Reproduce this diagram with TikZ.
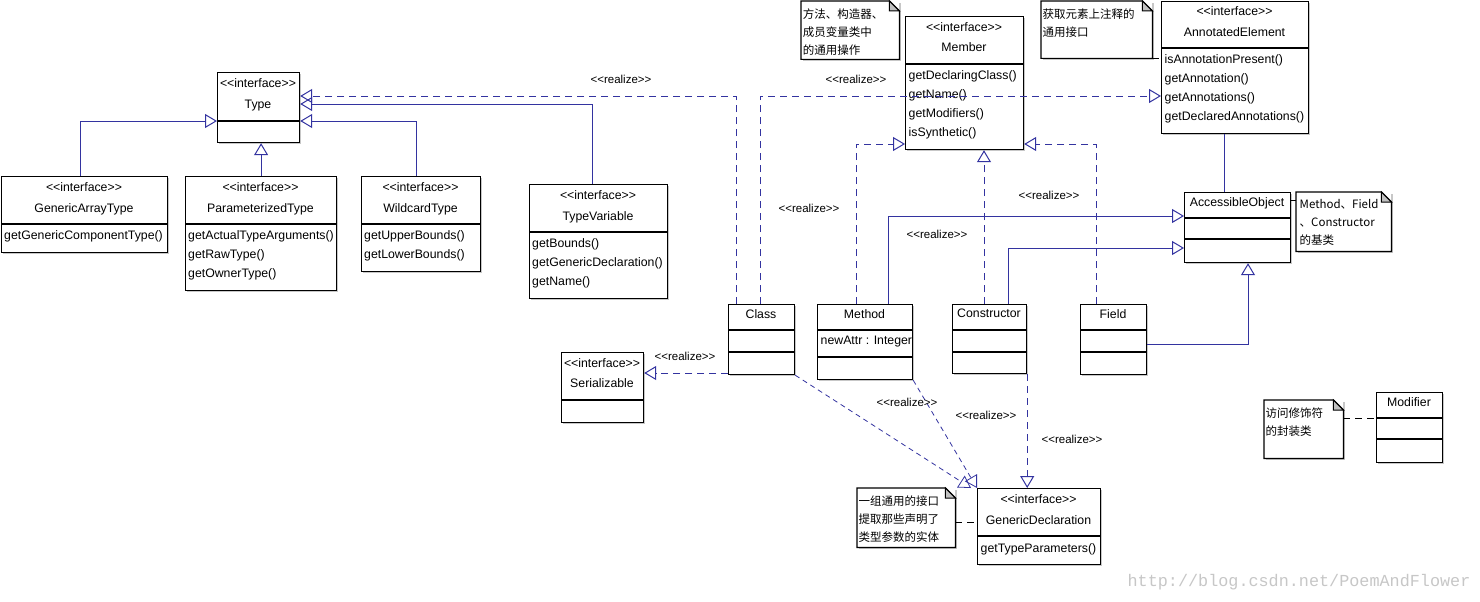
\documentclass[tikz,border=0pt]{standalone}
\usepackage{fontspec}
\setmainfont{Liberation Sans}
\newfontfamily\cjk{Noto Sans CJK SC}
\newfontfamily\wmfont{Liberation Mono}
\usepackage{tikz}
\usetikzlibrary{arrows.meta, shadows}

\definecolor{linkblue}{RGB}{51,51,160}
\definecolor{foldgray}{RGB}{192,192,192}

% stereotype text, kerned so that << and >> stay two characters
\newcommand{\stereo}[1]{<\kern0pt<#1>\kern0pt>}
% note outline with folded corner
\newcommand{\dogear}[1]{%
  \draw[line width=1.2pt] (#1.north west) -- ([xshift=-10pt]#1.north east)
    -- ([yshift=-10pt]#1.north east) -- (#1.south east) -- (#1.south west) -- cycle;
  \filldraw[fill=foldgray, line width=1pt] ([xshift=-10pt]#1.north east)
    -- ([xshift=-10pt,yshift=-10pt]#1.north east) -- ([yshift=-10pt]#1.north east) -- cycle;}

\begin{document}
\begin{tikzpicture}[x=1pt, y=-1pt, font=\fontsize{12.3}{19}\selectfont,
    box/.style={draw, line width=1.2pt, fill=white, anchor=north west, inner sep=0pt,
      drop shadow={shadow xshift=1.5pt, shadow yshift=-1.5pt, fill=black!22, opacity=1}},
    notebox/.style={fill=white, anchor=north west, inner sep=0pt,
      drop shadow={shadow xshift=1.5pt, shadow yshift=-1.5pt, fill=black!22, opacity=1}},
    divline/.style={line width=1.2pt},
    hdr/.style={anchor=north, inner sep=0pt, align=center, font=\fontsize{12.3}{20.5}\selectfont},
    mth/.style={anchor=north west, inner sep=0pt, align=left, font=\fontsize{12.3}{19}\selectfont},
    ntxt/.style={anchor=north west, inner sep=0pt, align=left, font=\cjk\fontsize{11.5}{18}\selectfont},
    lbl/.style={inner sep=0pt, text height=8.4pt, text depth=0pt, font=\fontsize{11.5}{14}\selectfont},
    genline/.style={draw=linkblue, line width=1pt, -{Triangle[open, length=12pt, width=14pt]}},
    realline/.style={genline, dash pattern=on 7pt off 5pt},
    realdiag/.style={genline, line width=0.8pt, dash pattern=on 5pt off 4pt},
    plainline/.style={draw=linkblue, line width=1pt},
    attach/.style={draw, line width=1pt, dash pattern=on 7pt off 5pt}]

    \fill[white] (0,0) rectangle (1480,602);
    \useasboundingbox (0,0) rectangle (1480,602);

    % Type and its sub-interfaces
    \node[box, minimum width=82, minimum height=70] (type) at (217,72) {};
    \draw[divline] (type.west |- 0,121) -- (type.east |- 0,121);
    \node[hdr] (type-h) at (258,78.5) {\stereo{interface}\\Type};

    \node[box, minimum width=166, minimum height=76] (gat) at (1,176) {};
    \draw[divline] (gat.west |- 0,224) -- (gat.east |- 0,224);
    \node[hdr] (gat-h) at (84,182.5) {\stereo{interface}\\GenericArrayType};
    \node[mth] (gat-m) at (4,230.5) {getGenericComponentType()};

    \node[box, minimum width=151, minimum height=114] (ptype) at (185,176) {};
    \draw[divline] (ptype.west |- 0,224) -- (ptype.east |- 0,224);
    \node[hdr] (ptype-h) at (260.5,182.5) {\stereo{interface}\\ParameterizedType};
    \node[mth] (ptype-m) at (188,230.5) {getActualTypeArguments()\\getRawType()\\getOwnerType()};

    \node[box, minimum width=119, minimum height=95] (wtype) at (361,176) {};
    \draw[divline] (wtype.west |- 0,224) -- (wtype.east |- 0,224);
    \node[hdr] (wtype-h) at (420.5,182.5) {\stereo{interface}\\WildcardType};
    \node[mth] (wtype-m) at (364,230.5) {getUpperBounds()\\getLowerBounds()};

    \node[box, minimum width=138, minimum height=114] (tvar) at (529,184) {};
    \draw[divline] (tvar.west |- 0,232) -- (tvar.east |- 0,232);
    \node[hdr] (tvar-h) at (598,190.5) {\stereo{interface}\\TypeVariable};
    \node[mth] (tvar-m) at (532,238.5) {getBounds()\\getGenericDeclaration()\\getName()};

    % Member and AnnotatedElement
    \node[box, minimum width=118, minimum height=133] (member) at (905,16) {};
    \draw[divline] (member.west |- 0,64) -- (member.east |- 0,64);
    \node[hdr] (member-h) at (964,22.2) {\stereo{interface}\\Member};
    \node[mth] (member-m) at (908.5,70.5) {getDeclaringClass()\\getName()\\getModifiers()\\isSynthetic()};

    \node[box, minimum width=147, minimum height=132] (annot) at (1161,1) {};
    \draw[divline] (annot.west |- 0,48) -- (annot.east |- 0,48);
    \node[hdr] (annot-h) at (1234.5,6.5) {\stereo{interface}\\AnnotatedElement};
    \node[mth] (annot-m) at (1164.5,54.8) {isAnnotationPresent()\\getAnnotation()\\getAnnotations()\\getDeclaredAnnotations()};

    \node[box, minimum width=106, minimum height=70] (access) at (1184,192) {};
    \draw[divline] (access.west |- 0,218) -- (access.east |- 0,218);
    \draw[divline] (access.west |- 0,239) -- (access.east |- 0,239);
    \node[hdr] (access-h) at (1237,197.2) {AccessibleObject};

    % Classes
    \node[box, minimum width=66, minimum height=70] (class) at (728,304) {};
    \draw[divline] (class.west |- 0,330) -- (class.east |- 0,330);
    \draw[divline] (class.west |- 0,352) -- (class.east |- 0,352);
    \node[hdr] (class-h) at (761,309.2) {Class};

    \node[box, minimum width=95, minimum height=75] (method) at (817,304) {};
    \draw[divline] (method.west |- 0,330) -- (method.east |- 0,330);
    \draw[divline] (method.west |- 0,357) -- (method.east |- 0,357);
    \node[hdr] (method-h) at (864.5,309.2) {Method};
    \node[mth] (method-a) at (820.5,336.2) {newAttr : Integer};

    \node[box, minimum width=74, minimum height=69] (ctor) at (952,304) {};
    \draw[divline] (ctor.west |- 0,330) -- (ctor.east |- 0,330);
    \draw[divline] (ctor.west |- 0,352) -- (ctor.east |- 0,352);
    \node[hdr] (ctor-h) at (989,309.2) {Constructor};

    \node[box, minimum width=66, minimum height=70] (field) at (1080,304) {};
    \draw[divline] (field.west |- 0,330) -- (field.east |- 0,330);
    \draw[divline] (field.west |- 0,352) -- (field.east |- 0,352);
    \node[hdr] (field-h) at (1113,309.2) {Field};

    \node[box, minimum width=82, minimum height=70] (serial) at (561,352) {};
    \draw[divline] (serial.west |- 0,400) -- (serial.east |- 0,400);
    \node[hdr] (serial-h) at (602,358.2) {\stereo{interface}\\Serializable};

    \node[box, minimum width=123, minimum height=76] (gdecl) at (977,488) {};
    \draw[divline] (gdecl.west |- 0,536) -- (gdecl.east |- 0,536);
    \node[hdr] (gdecl-h) at (1038.5,494.8) {\stereo{interface}\\GenericDeclaration};
    \node[mth] (gdecl-m) at (980.5,543.2) {getTypeParameters()};

    \node[box, minimum width=66, minimum height=70] (modifier) at (1376,392) {};
    \draw[divline] (modifier.west |- 0,418) -- (modifier.east |- 0,418);
    \draw[divline] (modifier.west |- 0,439) -- (modifier.east |- 0,439);
    \node[hdr] (modifier-h) at (1409,397.5) {Modifier};

    % Notes
    \node[notebox, minimum width=98, minimum height=58] (n1) at (801,1) {};
    \dogear{n1}
    \node[ntxt] (n1-t) at (802.7,8.1) {方法、构造器、\\成员变量类中\\的通用操作};

    \node[notebox, minimum width=111, minimum height=57] (n2) at (1041,1) {};
    \dogear{n2}
    \node[ntxt] (n2-t) at (1042.5,8.1) {获取元素上注释的\\通用接口};

    \node[notebox, minimum width=95, minimum height=59] (n3) at (1296,192) {};
    \dogear{n3}
    \node[ntxt] (n3-t) at (1299.5,198.8) {Method、Field\\、Constructor\\的基类};

    \node[notebox, minimum width=98, minimum height=59] (n4) at (857,488) {};
    \dogear{n4}
    \node[ntxt] (n4-t) at (858.5,495.5) {一组通用的接口\\提取那些声明了\\类型参数的实体};

    \node[notebox, minimum width=79, minimum height=58] (n5) at (1264,400) {};
    \dogear{n5}
    \node[ntxt] (n5-t) at (1265.5,408.1) {访问修饰符\\的封装类};

    % Generalization to Type
    \draw[genline] (gat.north -| 80,0) |- (type.west |- 0,121);
    \draw[genline] (ptype.north) -- (ptype.north |- type.south);
    \draw[genline] (wtype.north -| 416,0) |- (type.east |- 0,121);
    \draw[genline] (tvar.north -| 592,0) |- (type.east |- 0,104);

    % Realizations from Class
    \draw[realline] (class.north -| 736,0) |- (type.east |- 0,96);
    \draw[realline] (class.north -| 760,0) |- (annot.west |- 0,96);
    \draw[realline] (class.west |- 0,373) -- (serial.east |- 0,373);

    % Method, Constructor, Field
    \draw[realline] (method.north -| 856,0) |- (member.west |- 0,144);
    \draw[genline] (method.north -| 888,0) |- (access.west |- 0,216);
    \draw[realline] (ctor.north -| 984,0) -- (member.south -| 984,0);
    \draw[genline] (ctor.north -| 1008,0) |- (access.west |- 0,248);
    \draw[realline] (field.north -| 1096,0) |- (member.east |- 0,144);
    \draw[genline] (field.east |- 0,344) -| (access.south -| 1248,0);
    \draw[plainline] (annot.south -| 1224,0) -- (access.north -| 1224,0);

    % Realizations of GenericDeclaration
    \draw[realdiag] (class.south east) -- ([xshift=-6pt]gdecl.north west);
    \draw[realdiag] (method.south east) -- (gdecl.north west);
    \draw[realline] (ctor.south east) -- (ctor.south east |- gdecl.north);

    % Note links
    \draw[attach] (n2.south east) -- (annot.west |- n2.south east);
    \draw[attach] (access.east |- 0,200) -- (n3.west |- 0,200);
    \draw[attach] (n4.east |- 0,522) -- (gdecl.west |- 0,522);
    \draw[attach] (n5.east |- 0,418) -- (modifier.west |- 0,418);

    % Stereotype labels
    \node[lbl] (r1) at (621,79) {\stereo{realize}};
    \node[lbl] (r2) at (856,79) {\stereo{realize}};
    \node[lbl] (r3) at (809,208.5) {\stereo{realize}};
    \node[lbl] (r4) at (937,234.3) {\stereo{realize}};
    \node[lbl] (r5) at (1049,195) {\stereo{realize}};
    \node[lbl] (r6) at (685,356.7) {\stereo{realize}};
    \node[lbl] (r7) at (907,402.7) {\stereo{realize}};
    \node[lbl] (r8) at (986,415.7) {\stereo{realize}};
    \node[lbl] (r9) at (1072,439) {\stereo{realize}};

    % Watermark
    \node[inner sep=0pt, text=black!22, font=\wmfont\fontsize{16.8}{18}\selectfont] (wmark) at (1299,582) {http://blog.csdn.net/PoemAndFlower};

\end{tikzpicture}
\end{document}
